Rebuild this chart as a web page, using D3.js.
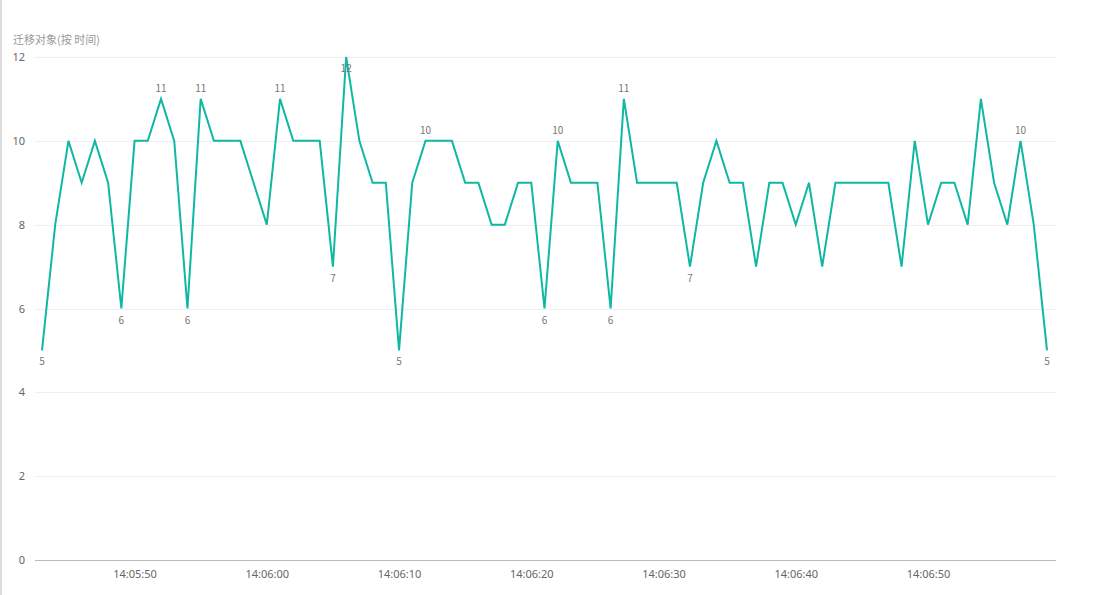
<!DOCTYPE html>
<html>
<head>
<meta charset="utf-8">
<script src="https://cdn.jsdelivr.net/npm/d3@7/dist/d3.min.js"></script>
<style>
  html, body { margin: 0; padding: 0; background: #fff; }
  body { width: 1101px; height: 595px; overflow: hidden; }
  svg text { font-family: "Microsoft YaHei", "Noto Sans CJK SC", "Noto Sans", sans-serif; }
</style>
</head>
<body>
<div id="vis"></div>
<script>
'use strict';

// Series: one sample per second, starting at 14:05:43
const startTime = '14:05:43';
const counts = [
  5, 8, 10, 9, 10, 9, 6, 10, 10, 11,
  10, 6, 11, 10, 10, 10, 9, 8, 11, 10,
  10, 10, 7, 12, 10, 9, 9, 5, 9, 10,
  10, 10, 9, 9, 8, 8, 9, 9, 6, 10,
  9, 9, 9, 6, 11, 9, 9, 9, 9, 7,
  9, 10, 9, 9, 7, 9, 9, 8, 9, 7,
  9, 9, 9, 9, 9, 7, 10, 8, 9, 9,
  8, 11, 9, 8, 10, 8, 5
];
// indices of points that carry a value label
const labeledIdx = [0, 6, 9, 11, 12, 18, 22, 23, 27, 29, 38, 39, 43, 44, 49, 74, 76];
const yTicks = [0, 2, 4, 6, 8, 10, 12];
const title = '迁移对象(按 时间)';

// Constants for sizing
const width = 1101;
const height = 595;
const plot = { left: 35, right: 1056, top: 57, bottom: 560 };

const parseTime = d3.timeParse('%H:%M:%S');
const t0 = parseTime(startTime);
const data = counts.map(function (v, i) {
  return { time: d3.timeSecond.offset(t0, i), value: v };
});

const svg = d3.select('#vis')
  .append('svg')
  .attr('width', width)
  .attr('height', height);

// thin panel border on the left edge
svg.append('rect')
  .attr('x', 0)
  .attr('y', 0)
  .attr('width', 2)
  .attr('height', height)
  .attr('fill', '#dddddd');

const x = d3.scaleTime()
  .domain(d3.extent(data, d => d.time))
  .range([42, 1047]);

const y = d3.scaleLinear()
  .domain([0, 12])
  .range([plot.bottom, plot.top]);

// title
svg.append('text')
  .attr('x', 13)
  .attr('y', 44)
  .attr('fill', '#999')
  .style('font-size', '11px')
  .text(title);

// horizontal grid lines
svg.append('g')
  .selectAll('line')
  .data(yTicks.filter(d => d > 0))
  .enter().append('line')
  .attr('x1', plot.left)
  .attr('x2', plot.right)
  .attr('y1', d => Math.round(y(d)) + 0.5)
  .attr('y2', d => Math.round(y(d)) + 0.5)
  .attr('stroke', '#eeeeee')
  .attr('stroke-width', 1);

// baseline
svg.append('line')
  .attr('x1', plot.left)
  .attr('x2', plot.right)
  .attr('y1', Math.round(y(0)) + 0.5)
  .attr('y2', Math.round(y(0)) + 0.5)
  .attr('stroke', '#bbbbbb')
  .attr('stroke-width', 1);

// y axis labels
const yAxis = svg.append('g')
  .attr('transform', 'translate(25,0)')
  .call(d3.axisLeft(y).tickValues(yTicks).tickSize(0).tickPadding(0));
yAxis.select('.domain').remove();
yAxis.selectAll('text')
  .attr('fill', '#666')
  .style('font-size', '11px')
  .style('font-family', '"Microsoft YaHei", "Noto Sans", sans-serif');

// x axis labels
const xAxis = svg.append('g')
  .attr('transform', 'translate(0,' + plot.bottom + ')')
  .call(d3.axisBottom(x)
    .ticks(d3.timeSecond.every(10))
    .tickFormat(d3.timeFormat('%H:%M:%S'))
    .tickSize(0)
    .tickPadding(10));
xAxis.select('.domain').remove();
xAxis.selectAll('text')
  .attr('fill', '#666')
  .style('font-size', '11px')
  .style('font-family', '"Microsoft YaHei", "Noto Sans", sans-serif');

// the line
const line = d3.line()
  .x(d => x(d.time))
  .y(d => y(d.value));

svg.append('path')
  .datum(data)
  .attr('fill', 'none')
  .attr('stroke', '#0fb8a3')
  .attr('stroke-width', 2)
  .attr('stroke-linejoin', 'miter')
  .attr('d', line);

// point labels: above high points, below low ones (or when no room above)
svg.append('g')
  .selectAll('text')
  .data(labeledIdx.map(i => data[i]))
  .enter().append('text')
  .attr('x', d => x(d.time))
  .attr('y', function (d) {
    const py = y(d.value);
    const above = d.value >= 8 && py - 14 > plot.top;
    return above ? py - 7 : py + 15;
  })
  .attr('text-anchor', 'middle')
  .attr('fill', '#777')
  .style('font-size', '10px')
  .text(d => d.value);
</script>
</body>
</html>
